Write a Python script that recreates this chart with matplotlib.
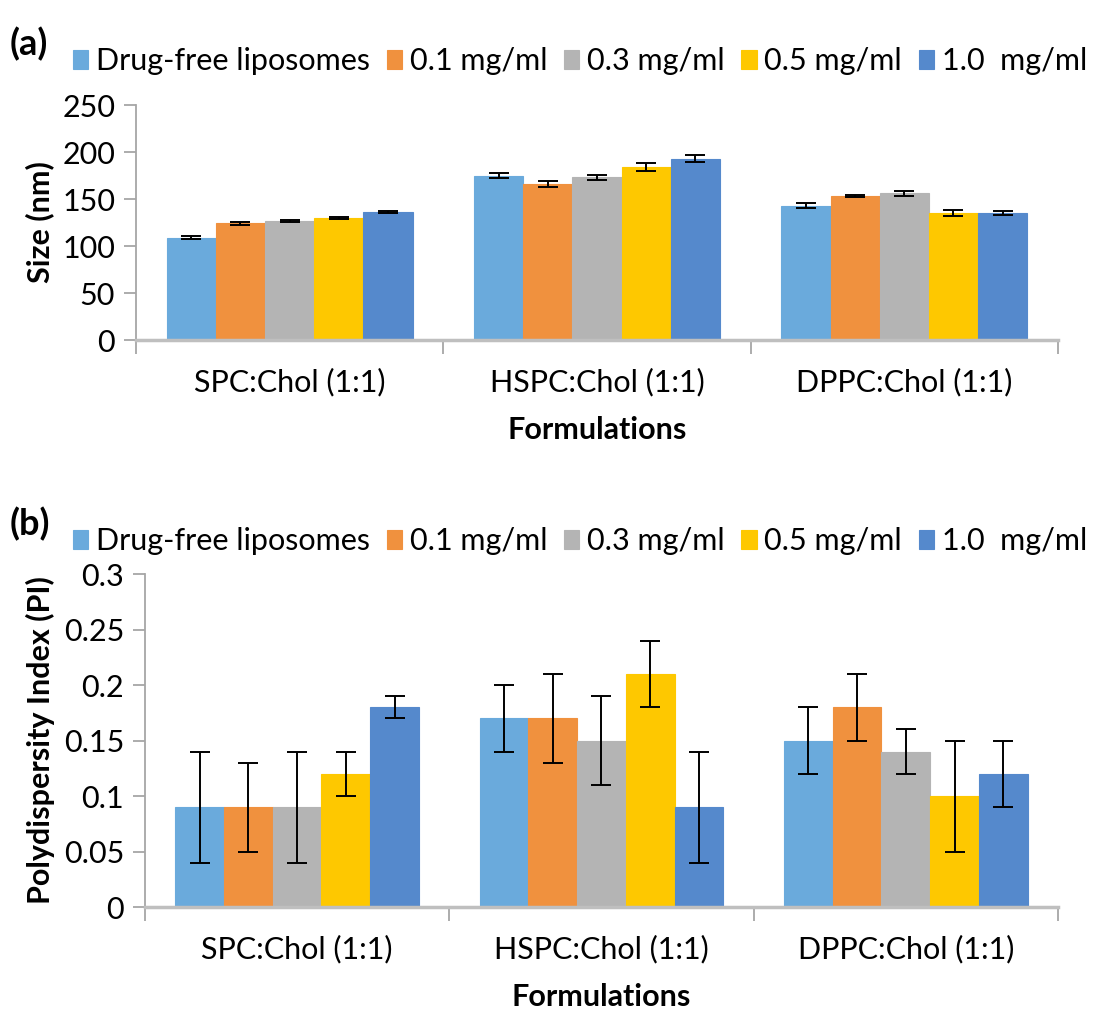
import matplotlib
matplotlib.use("Agg")
import matplotlib.pyplot as plt
import numpy as np

# formulations and concentrations
formulations = ["SPC:Chol (1:1)", "HSPC:Chol (1:1)", "DPPC:Chol (1:1)"]
series = ["Drug-free liposomes", "0.1 mg/ml", "0.3 mg/ml", "0.5 mg/ml", "1.0  mg/ml"]
colors = ["#6AAADC", "#F0913E", "#B4B4B4", "#FEC800", "#5589CC"]

# vesicle size (nm), rows = series, columns = formulations
size_mean = [
    [109, 175, 143],
    [124, 166, 153],
    [127, 173, 156],
    [130, 184, 135],
    [136, 193, 135],
]
size_err = [
    [2, 3, 3],
    [2, 3, 1],
    [1, 3, 3],
    [1, 4.5, 3],
    [1, 4, 2],
]

# polydispersity index
pi_mean = [
    [0.09, 0.17, 0.15],
    [0.09, 0.17, 0.18],
    [0.09, 0.15, 0.14],
    [0.12, 0.21, 0.10],
    [0.18, 0.09, 0.12],
]
pi_err = [
    [0.05, 0.03, 0.03],
    [0.04, 0.04, 0.03],
    [0.05, 0.04, 0.02],
    [0.02, 0.03, 0.05],
    [0.01, 0.05, 0.03],
]

plt.rcParams["font.family"] = ["Lato", "DejaVu Sans"]
plt.rcParams["font.size"] = 22

fig = plt.figure(figsize=(11.09, 10.19), dpi=100)
ax_a = fig.add_axes([0.1226, 0.6663, 0.8314, 0.2306])
ax_b = fig.add_axes([0.1307, 0.1099, 0.8233, 0.3268])


def draw_panel(ax, means, errs, ylim, yticks, ylabel, ticklabels):
    x = np.arange(len(formulations))
    width = 0.16
    for i in range(len(series)):
        offset = (i - 2) * width
        ax.bar(x + offset, means[i], width, color=colors[i], label=series[i],
               edgecolor=colors[i], linewidth=0.8, zorder=2)
        ax.errorbar(x + offset, means[i], yerr=errs[i], fmt="none",
                    ecolor="black", elinewidth=1.4, capsize=7, capthick=1.4, zorder=3)
    ax.set_xlim(-0.5, 2.5)
    ax.set_ylim(*ylim)
    ax.set_yticks(yticks)
    ax.set_yticklabels(ticklabels)
    # category boundaries as outward ticks like a spreadsheet chart
    ax.set_xticks([-0.5, 0.5, 1.5, 2.5])
    ax.set_xticklabels([])
    ax.set_xticks(x, minor=True)
    ax.set_xticklabels(formulations, minor=True)
    ax.tick_params(axis="x", which="major", direction="out", length=10, color="#A6A6A6", width=1.3)
    ax.tick_params(axis="x", which="minor", length=0, pad=20)
    ax.tick_params(axis="y", direction="out", length=9, color="#A6A6A6", width=1.3, pad=6)
    for side in ["top", "right"]:
        ax.spines[side].set_visible(False)
    ax.spines["left"].set_color("#A6A6A6")
    ax.spines["left"].set_linewidth(1.3)
    ax.spines["bottom"].set_color("#BFBFBF")
    ax.spines["bottom"].set_linewidth(2.5)
    ax.set_ylabel(ylabel, fontweight="bold", labelpad=6)
    ax.set_xlabel("Formulations", fontweight="bold", labelpad=14)


draw_panel(ax_a, size_mean, size_err, (0, 250), [0, 50, 100, 150, 200, 250], "Size (nm)",
           ["0", "50", "100", "150", "200", "250"])
draw_panel(ax_b, pi_mean, pi_err, (0, 0.3), [0, 0.05, 0.1, 0.15, 0.2, 0.25, 0.3],
           "Polydispersity Index (PI)", ["0", "0.05", "0.1", "0.15", "0.2", "0.25", "0.3"])

for ax, tag, ly in [(ax_a, "(a)", 0.942), (ax_b, "(b)", 0.471)]:
    fig.text(0.009, ly + 0.015, tag, fontsize=26, fontweight="bold", va="center")
    ax.legend(loc="center left", bbox_to_anchor=(0.066, ly - 0.002), bbox_transform=fig.transFigure,
              ncol=5, frameon=False, handlelength=0.5, handleheight=0.6, handletextpad=0.25,
              columnspacing=0.55, borderpad=0, borderaxespad=0)

fig.savefig("out.png", dpi=100)
